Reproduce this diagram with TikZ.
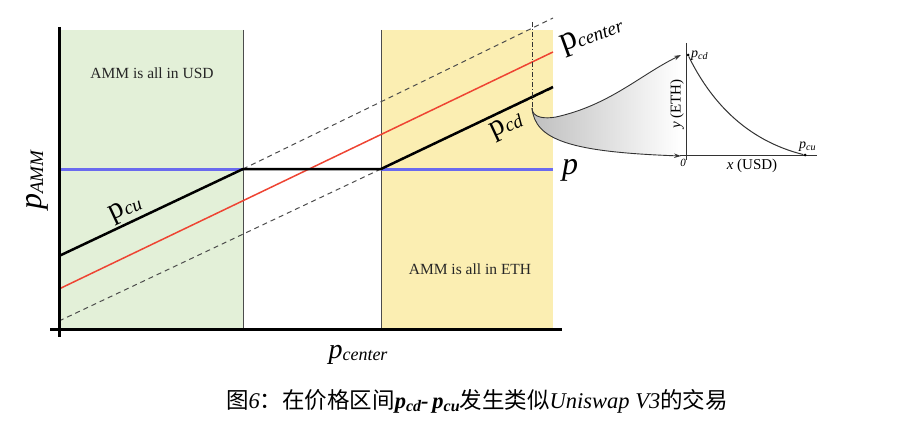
\documentclass[tikz,border=0pt]{standalone}
\usepackage{fontspec}
\setmainfont{Liberation Serif}
\newfontfamily\cjk{Noto Sans CJK SC}
\usetikzlibrary{arrows.meta}
\definecolor{usdgreen}{HTML}{E3F0D8}
\definecolor{ethyellow}{HTML}{FBEEB2}
\definecolor{pblue}{HTML}{6A6AEE}
\definecolor{pred}{HTML}{EE4433}
\newcommand\plab[4]{{\fontsize{#1}{#1}\selectfont #3}\raisebox{-2pt}{\fontsize{#2}{#2}\selectfont\itshape #4}}
\begin{document}
\begin{tikzpicture}[x=1pt,y=-1pt,
  border/.style={draw=black!70,line width=0.7pt},
  axis/.style={line width=3pt,black},
  guide/.style={black!70,line width=1pt,dash pattern=on 5pt off 4pt},
  centerline/.style={pred,line width=1.5pt},
  pline/.style={black,line width=2.5pt},
  bluep/.style={pblue,line width=3pt},
  lbl/.style={inner sep=0pt,text=black!85,font=\fontsize{15.5}{15.5}\selectfont},
  arr/.style={black!80,line width=0.9pt,-{Stealth[length=7pt,width=4.5pt]}},
  small/.style={black!80,line width=1pt},
  dot/.style={circle,fill=black,inner sep=0pt,minimum size=3pt}]
\useasboundingbox (0,0) rectangle (916,428);
% regions
\fill[usdgreen] (59,30) rectangle (243,329);
\fill[ethyellow] (381,30) rectangle (553,329);
\draw[border] (243,30) -- (243,329);
\draw[border] (381,30) -- (381,329);
% coordinates
\coordinate (k1) at (243,169);
\coordinate (k2) at (381,169);
% guides
\draw[guide] (k1) -- (553,18);
\draw[guide] (59,321) -- (k2) -- (553,88);
% center line
\draw[centerline] (59,289) -- (553,52);
% blue p
\draw[bluep] (59,169) -- (k1);
\draw[bluep] (k2) -- (553,169);
% AMM price
\draw[pline] (59,256) -- (k1) -- (k2) -- (553,87);
% axes
\draw[axis] (59,27) -- (59,337);
\draw[axis] (50,329) -- (562,329);
% region labels
\node[lbl] (usd) at (152,73) {AMM is all in USD};
\node[lbl] (eth) at (470,269) {AMM is all in ETH};
% line labels
\node[inner sep=0pt,rotate=25] (pcu) at (126,210) {\plab{30}{19}{p}{cu}};
\node[inner sep=0pt,rotate=25] (pcd) at (507,127) {\plab{30}{19}{p}{cd}};
\node[inner sep=0pt,rotate=20] (pcen) at (592,36) {\plab{34}{19}{p}{center}};
\node[inner sep=0pt] (pp) at (570,170) {\fontsize{32}{32}\selectfont\itshape p};
\node[inner sep=0pt,rotate=90] (pamm) at (37,180) {\plab{32}{19}{\itshape p}{AMM}};
\node[inner sep=0pt] (pcx) at (358,355) {\plab{28}{18}{\itshape p}{center}};
% zoom funnel
\coordinate (fs) at (532,108);
\coordinate (tipu) at (681,55);
\coordinate (tipl) at (681,156);
\shade[left color=gray!50,right color=white]
  (fs) .. controls (532,118) and (545,119) .. (556,117)
  .. controls (610,105) and (640,75) .. (tipu)
  -- (tipl) .. controls (570,152) and (535,140) .. (fs) -- cycle;
\draw[black!80,line width=0.9pt,dash pattern=on 5pt off 2pt on 1pt off 2pt] (532,22) -- (fs);
\draw[arr] (fs) .. controls (532,118) and (545,119) .. (556,117)
  .. controls (610,105) and (640,75) .. (tipu);
\draw[arr] (fs) .. controls (535,140) and (570,152) .. (tipl);
% small chart
\coordinate (o) at (686,155);
\draw[small] (686,43) -- (686,160);
\draw[small] (680,155) -- (817,155);
\node[dot] (a) at (688,55) {};
\node[dot] (b) at (805,155) {};
\draw[small] (a) .. controls (710,100) and (745,140) .. (b);
\node[inner sep=0pt,anchor=west] (lcd) at (691,56) {\plab{14}{10}{\itshape p}{cd}};
\node[inner sep=0pt,anchor=west] (lcu) at (799,147) {\plab{14}{10}{\itshape p}{cu}};
\node[inner sep=0pt] (zero) at (683,163) {\fontsize{11}{11}\selectfont\itshape 0};
\node[inner sep=0pt] (xl) at (752,166) {\fontsize{15}{15}\selectfont\itshape x\upshape\ (USD)};
\node[inner sep=0pt,rotate=90] (yl) at (677,104) {\fontsize{15}{15}\selectfont\itshape y\upshape\ (ETH)};
% caption
\node[inner sep=0pt] (cap) at (477,401) {\fontsize{22.5}{22.5}\selectfont\cjk 图{\rmfamily\itshape 6}：在价格区间{\rmfamily\bfseries\itshape p\raisebox{-3pt}{\fontsize{16}{16}\selectfont cd}-\,p\raisebox{-3pt}{\fontsize{16}{16}\selectfont cu}}发生类似{\rmfamily\itshape Uniswap V3}的交易};
\end{tikzpicture}
\end{document}
